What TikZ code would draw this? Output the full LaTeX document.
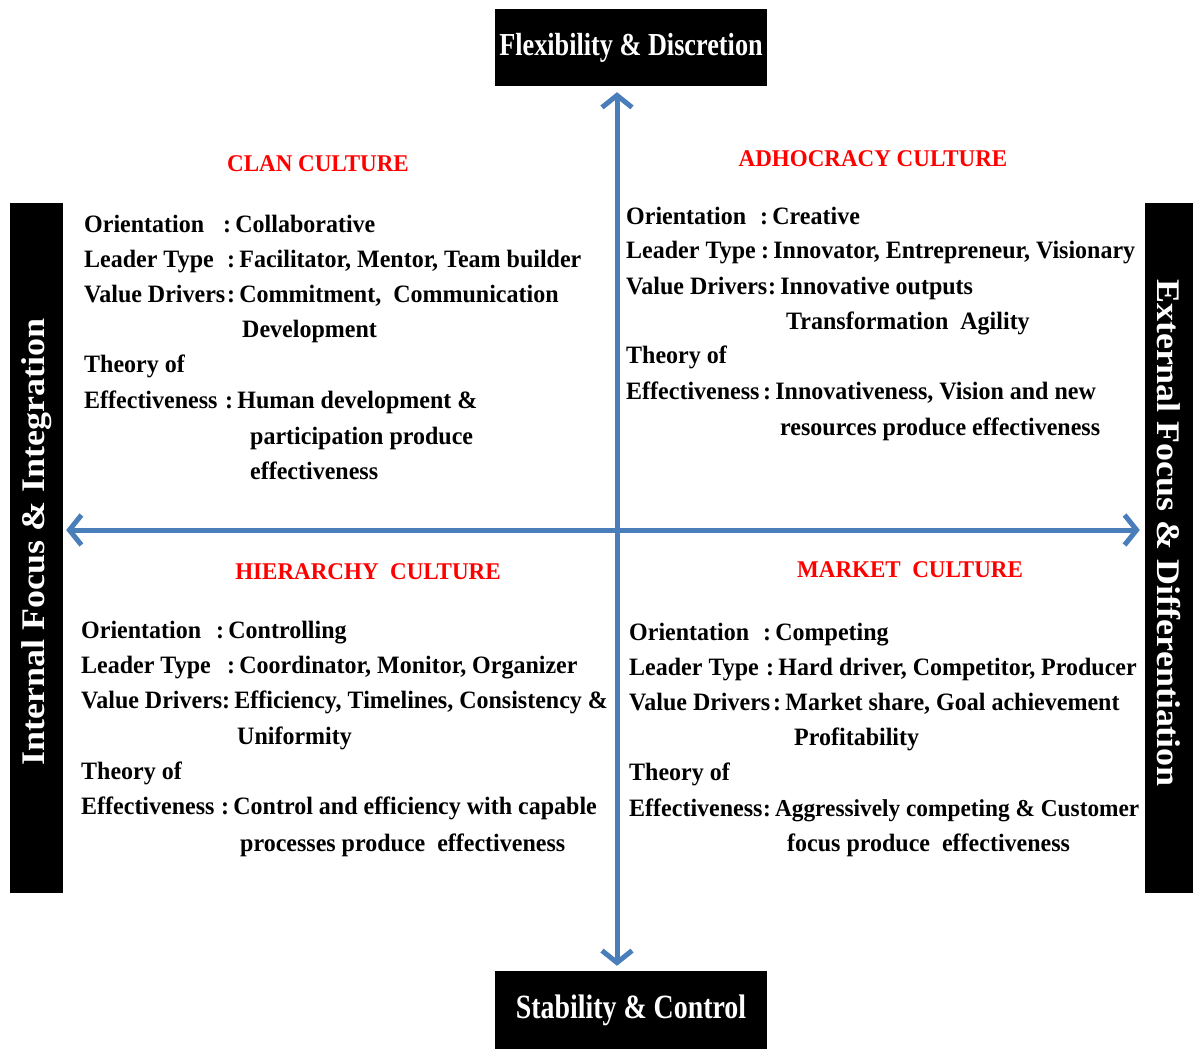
\documentclass[tikz,border=0pt]{standalone}
\usepackage{fontspec}
\setmainfont{Liberation Serif}[FakeStretch=0.96]
\newfontfamily\headfont{Liberation Serif}[FakeStretch=0.82]
\newfontfamily\sidefont{Liberation Serif}[FakeStretch=1.09]
\usetikzlibrary{arrows.meta}
\definecolor{axisblue}{RGB}{74,126,187}

\begin{document}
\begin{tikzpicture}[x=1pt,y=-1pt,
  endbox/.style={fill=black, text=white, inner sep=0pt},
  culture/.style={text=red, inner sep=0pt, font=\bfseries\fontsize{24}{28}\selectfont},
  entry/.style={anchor=mid west, inner sep=0pt, yshift=-6pt, font=\bfseries\fontsize{25}{30}\selectfont},
  axis/.style={axisblue, line width=5pt, {Straight Barb[length=12pt,width=30pt]}-{Straight Barb[length=12pt,width=30pt]}}]

\useasboundingbox (0,0) rectangle (1193,1049);

\node[endbox, minimum width=272pt, minimum height=77pt, font=\headfont\bfseries\fontsize{32}{36}\selectfont] (flex) at (631,47.5) {Flexibility \& Discretion};
\node[endbox, minimum width=272pt, minimum height=78pt, font=\headfont\bfseries\fontsize{34}{38}\selectfont] (stab) at (631,1010) {Stability \& Control};
\node[endbox, minimum width=53pt, minimum height=690pt, font=\sidefont\bfseries\fontsize{33}{36}\selectfont] (intern) at (36.5,548) {\rotatebox{90}{\hspace*{12pt}Internal Focus \& Integration}};
\node[endbox, minimum width=48pt, minimum height=690pt, font=\sidefont\bfseries\fontsize{33}{36}\selectfont] (extern) at (1169,548) {\rotatebox{-90}{External Focus \& Differentiation\hspace*{30pt}}};

\coordinate (o) at (617,530);
\draw[axis, shorten <=6pt, shorten >=5pt] (o |- flex.south) -- (o |- stab.north);
\draw[axis, shorten <=3pt, shorten >=5pt] (o -| intern.east) -- (o -| extern.west);

% clan
\node[culture] (clan) at (318,164) {CLAN CULTURE};
\node[entry] (cl1) at (84,224) {Orientation};
\node[entry] (cl1v) at (223,224) {:\,Collaborative};
\node[entry] (cl2) at (84,259) {Leader Type};
\node[entry] (cl2v) at (227,259) {:\,Facilitator, Mentor, Team builder};
\node[entry] (cl3) at (84,294) {Value Drivers};
\node[entry] (cl3v) at (227,294) {:\,Commitment,\ \ Communication};
\node[entry] (cl4) at (242,329) {Development};
\node[entry] (cl5) at (84,364) {Theory of};
\node[entry] (cl6) at (84,400) {Effectiveness};
\node[entry] (cl6v) at (225,400) {:\,Human development \&};
\node[entry] (cl7) at (250,436) {participation produce};
\node[entry] (cl8) at (250,471) {effectiveness};

% adhocracy
\node[culture] (adho) at (873,159) {ADHOCRACY CULTURE};
\node[entry] (ad1) at (626,216) {Orientation};
\node[entry] (ad1v) at (760,216) {:\,Creative};
\node[entry] (ad2) at (626,250) {Leader Type};
\node[entry] (ad2v) at (761,250) {:\,Innovator, Entrepreneur, Visionary};
\node[entry] (ad3) at (626,286) {Value Drivers};
\node[entry] (ad3v) at (768,286) {:\,Innovative outputs};
\node[entry] (ad4) at (786,321) {Transformation\ \ Agility};
\node[entry] (ad5) at (626,355) {Theory of};
\node[entry] (ad6) at (626,391) {Effectiveness};
\node[entry] (ad6v) at (763,391) {:\,Innovativeness, Vision and new};
\node[entry] (ad7) at (780,427) {resources produce effectiveness};

% hierarchy
\node[culture] (hier) at (368,572) {HIERARCHY\ \ CULTURE};
\node[entry] (hi1) at (81,630) {Orientation};
\node[entry] (hi1v) at (216,630) {:\,Controlling};
\node[entry] (hi2) at (81,665) {Leader Type};
\node[entry] (hi2v) at (227,665) {:\,Coordinator, Monitor, Organizer};
\node[entry] (hi3) at (81,700) {Value Drivers};
\node[entry] (hi3v) at (222,700) {:\,Efficiency, Timelines, Consistency \&};
\node[entry] (hi4) at (237,736) {Uniformity};
\node[entry] (hi5) at (81,771) {Theory of};
\node[entry] (hi6) at (81,806) {Effectiveness};
\node[entry] (hi6v) at (221,806) {:\,Control and efficiency with capable};
\node[entry] (hi7) at (240,843) {processes produce\ \ effectiveness};

% market
\node[culture] (mark) at (910,570) {MARKET\ \ CULTURE};
\node[entry] (ma1) at (629,632) {Orientation};
\node[entry] (ma1v) at (763,632) {:\,Competing};
\node[entry] (ma2) at (629,667) {Leader Type};
\node[entry] (ma2v) at (766,667) {:\,Hard driver, Competitor, Producer};
\node[entry] (ma3) at (629,702) {Value Drivers};
\node[entry] (ma3v) at (773,702) {:\,Market share, Goal achievement};
\node[entry] (ma4) at (794,737) {Profitability};
\node[entry] (ma5) at (629,772) {Theory of};
\node[entry] (ma6) at (629,808) {Effectiveness};
\node[entry, font=\bfseries\fontsize{24.3}{30}\selectfont] (ma6v) at (763,808) {:\,Aggressively competing \& Customer};
\node[entry] (ma7) at (787,843) {focus produce\ \ effectiveness};

\end{tikzpicture}
\end{document}
